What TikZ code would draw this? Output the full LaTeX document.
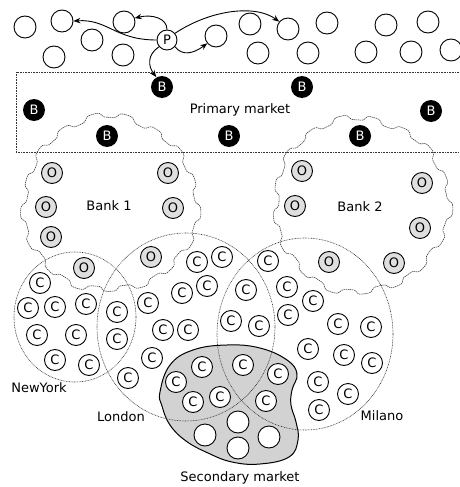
\documentclass[tikz,border=0pt]{standalone}
\usepackage{fontspec}
\setmainfont{DejaVu Sans}
\usetikzlibrary{arrows.meta}
\tikzset{
  lbl/.style={font=\fontsize{13}{15}\selectfont},
  base/.style={circle, inner sep=0pt, line width=0.9pt, font=\fontsize{13}{15}\selectfont},
  cnode/.style={base, draw, fill=white, minimum size=21pt},
  onode/.style={base, draw, fill=gray!25, minimum size=21pt},
  bnode/.style={base, fill=black, text=white, minimum size=22pt},
  enode/.style={base, draw, fill=white, minimum size=22pt},
  dotline/.style={line width=0.6pt, dash pattern=on 0.8pt off 0.8pt, black!80},
  gearline/.style={line width=0.55pt, dash pattern=on 1.4pt off 0.7pt, black!80},
  arr/.style={line width=0.9pt, -{Stealth[length=7pt,width=5.5pt]}},
}
\begin{document}
\begin{tikzpicture}[x=1pt,y=-1pt]
\useasboundingbox (0,0) rectangle (459,487);
% primary market box
\draw[dotline] (459,72) -- (16,72) -- (16,152) -- (459,152);
% bank gears
\draw[gearline] plot[domain=0:360, samples=361, smooth] ({110+(87+2.6*tanh(2.5*sin(17*\x))+1.5*sin(3*\x+30)+1*sin(7*\x))*cos(\x)}, {204+(87+2.6*tanh(2.5*sin(17*\x))+1.5*sin(3*\x+30)+1*sin(7*\x))*sin(\x)}) -- cycle;
\draw[gearline] plot[domain=0:360, samples=361, smooth] ({361+(87+2.6*tanh(2.5*sin(17*\x+40))+1.5*sin(3*\x+100)+1*sin(7*\x+50))*cos(\x)}, {205+(87+2.6*tanh(2.5*sin(17*\x+40))+1.5*sin(3*\x+100)+1*sin(7*\x+50))*sin(\x)}) -- cycle;
% secondary market blob
\draw[line width=1pt, fill=gray!35] plot[smooth cycle, tension=0.7] coordinates {
 (160,392) (170,365) (193,350) (227,345) (260,348) (287,360) (297,374)
 (292,390) (291,405) (296,422) (298,440) (289,457) (260,464) (232,462)
 (208,453) (186,441) (170,425) (162,406)};
% cities
\draw[dotline] (75,317) ellipse [x radius=61, y radius=65];
\draw[dotline] (186,327) ellipse [x radius=89, y radius=94];
\draw[dotline] (305,334) ellipse [x radius=88, y radius=96];
% labels
\node[lbl] (pm) at (240,110) {Primary market};
\node[lbl] (b1) at (109,206) {Bank 1};
\node[lbl] (b2) at (360,207) {Bank 2};
\node[lbl] (ny) at (39,388) {NewYork};
\node[lbl] (ld) at (121,417) {London};
\node[lbl] (ml) at (382,416) {Milano};
\node[lbl] (sm) at (240,478) {Secondary market};
% top circles
\foreach \p [count=\i] in {(25,27),(62,21),(92,40),(54,57),(124,22),(123,55),(216,36),(250,24),(288,29),(327,23),(258,53),(308,53),(386,25),(428,22),(366,52),(411,52),(451,50)}
  \node[enode] (t\i) at \p {};
\node[base, draw, fill=white, minimum size=20pt] (P) at (167,40) {P};
% banks B
\foreach \p [count=\i] in {(162,87),(34,110),(107,136),(229,136),(302,87),(431,111),(360,136)}
  \node[bnode] (B\i) at \p {B};
% O nodes
\foreach \p [count=\i] in {(52,173),(168,173),(46,207),(173,208),(51,237),(151,257),(84,268),(302,171),(295,206),(422,183),(420,228),(329,262),(394,263)}
  \node[onode] (o\i) at \p {O};
% C nodes
\foreach \p [count=\i] in {(40,283),(28,308),(55,307),(86,304),(37,335),(76,335),(55,360),(89,365),
  (117,312),(117,339),(128,378),
  (148,303),(152,358),(163,330),(188,330),(182,293),(207,286),(197,262),(222,257),
  (246,290),(231,321),(259,326),(268,261),(287,287),(288,315),(313,301),
  (338,324),(371,327),(308,349),(344,355),(372,363),(318,382),(348,394),(319,410),
  (176,382),(202,367),(243,365),(278,374),(193,402),(220,397),(266,401)}
  \node[cnode] (c\i) at \p {C};
% empty circles in secondary market
\foreach \p [count=\i] in {(238,422),(205,435),(238,448),(269,437)}
  \node[enode] (w\i) at \p {};
% arrows from P
\draw[arr] (P.west) .. controls (115,40) and (108,19) .. (t2.east);
\draw[arr] (P.north) .. controls (167,18) and (152,14) .. (t5.20);
\draw[arr] (P.-40) .. controls (182,56) and (193,54) .. (t7.-140);
\draw[arr] (P.40) .. controls (210,10) and (255,4) .. (t9.140);
\draw[arr] (P.-140) .. controls (147,55) and (148,66) .. (B1.120);
\end{tikzpicture}
\end{document}
